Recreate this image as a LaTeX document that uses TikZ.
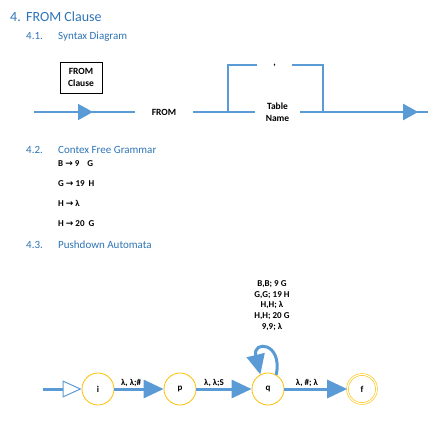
\documentclass[tikz,border=0pt]{standalone}
\usepackage{fontspec}
\setmainfont{Carlito}
\newfontfamily\arrowfont{DejaVu Sans}
\usetikzlibrary{arrows.meta,decorations.markings}

\definecolor{heading blue}{RGB}{46,116,181}
\definecolor{rail line}{RGB}{91,155,213}
\definecolor{state edge}{RGB}{255,192,0}
\def\to{{\arrowfont\bfseries →}}
\tikzset{heading/.style={anchor=base west, inner sep=0, text=heading blue, font=\fontsize{14}{16}\selectfont},
    subheading/.style={anchor=base west, inner sep=0, text=heading blue, font=\fontsize{11}{13}\selectfont},
    prod/.style={anchor=base west, inner sep=0, font=\bfseries\fontsize{9}{10}\selectfont},
    box/.style={draw=black, line width=0.8pt, minimum width=42pt, minimum height=31pt, inner sep=0, align=center, font=\bfseries\fontsize{9.5}{12}\selectfont},
    word/.style={inner sep=0, align=center, font=\bfseries\fontsize{9.5}{12}\selectfont},
    rail/.style={draw=rail line, line width=2pt},
    flow/.style={postaction={decorate, decoration={markings,
        mark=at position #1 with {\arrow[rail line]{Triangle[length=15pt,width=16pt]}}}}},
    state/.style={circle, draw=state edge, line width=0.8pt, minimum size=32pt, inner sep=0, fill=white, font=\bfseries\fontsize{9}{10}\selectfont},
    final/.style={double, line width=0.6pt, double distance=1.2pt, minimum size=29pt},
    trans/.style={draw=rail line, line width=3pt, -{Triangle[length=20pt,width=18pt]}},
    entry/.style={draw=rail line, line width=3pt, -{Triangle[open, length=19pt, width=17pt, line width=1pt]}},
    edge text/.style={above, inner sep=1pt, font=\bfseries\fontsize{9}{10.8}\selectfont}}

\begin{document}
\begin{tikzpicture}[x=1pt,y=1pt]
\useasboundingbox (0,0) rectangle (446,-448);
\node[heading] (title) at (10,-21) {\makebox[16pt][l]{4.}FROM Clause};
\node[subheading] (syntax) at (26,-39) {\makebox[32pt][l]{4.1.}Syntax Diagram};
\node[subheading] (cfg) at (26,-153.5) {\makebox[32pt][l]{4.2.}Contex Free Grammar};
\node[subheading] (pda) at (26,-248) {\makebox[32pt][l]{4.3.}Pushdown Automata};

% syntax diagram
\node[box] (clause) at (81,-77.5) {FROM\\Clause};
\node[word, minimum width=58pt] (from) at (164,-112) {FROM};
\node[word, minimum width=45pt] (table) at (277.5,-112) {Table\\Name};
\node[word, minimum width=35pt] (comma) at (274.5,-65) {,};
\coordinate (start) at (34,-112);
\coordinate (split) at (228,-112);
\coordinate (join) at (323,-112);
\coordinate (end) at (428,-112);
\draw[rail, flow=59pt] (start) -- (from.west);
\draw[rail] (from.east) -- (table.west);
\draw[rail, flow=118pt] (table.east) -- (end);
\draw[rail] (split) |- (comma.west);
\draw[rail] (comma.east) -| (join);

% grammar
\node[prod] (r1) at (58,-166.5) {B \to\ 9\hspace{8pt}G};
\node[prod] (r2) at (58,-186.5) {G \to\ 19\hspace{4pt}H};
\node[prod] (r3) at (58,-206.5) {H \to\ λ};
\node[prod] (r4) at (58,-226.5) {H \to\ 20\hspace{4pt}G};

% automaton
\node[state] (i) at (98,-389) {i};
\node[state] (p) at (180,-389) {p};
\node[state] (q) at (268,-389) {q};
\node[state, final] (f) at (362,-389) {f};
\coordinate (init) at (43,-389);
\draw[entry] (init) -- (i);
\draw[trans] (i) -- node[edge text, pos=.34] {λ, λ;\#} (p);
\draw[trans] (p) -- node[edge text, pos=.32] {λ, λ;S} (q);
\draw[trans] (q) -- node[edge text, pos=.36] {λ, \#; λ} (f);
\draw[trans] (q.60) .. controls (283,-342) and (252,-340) .. (q.118);
\node[edge text, anchor=center, align=center] (stack) at (272,-305.5)
    {B,B; 9 G\\G,G; 19 H\\H,H; λ\\H,H; 20 G\\9,9; λ};
\end{tikzpicture}
\end{document}
